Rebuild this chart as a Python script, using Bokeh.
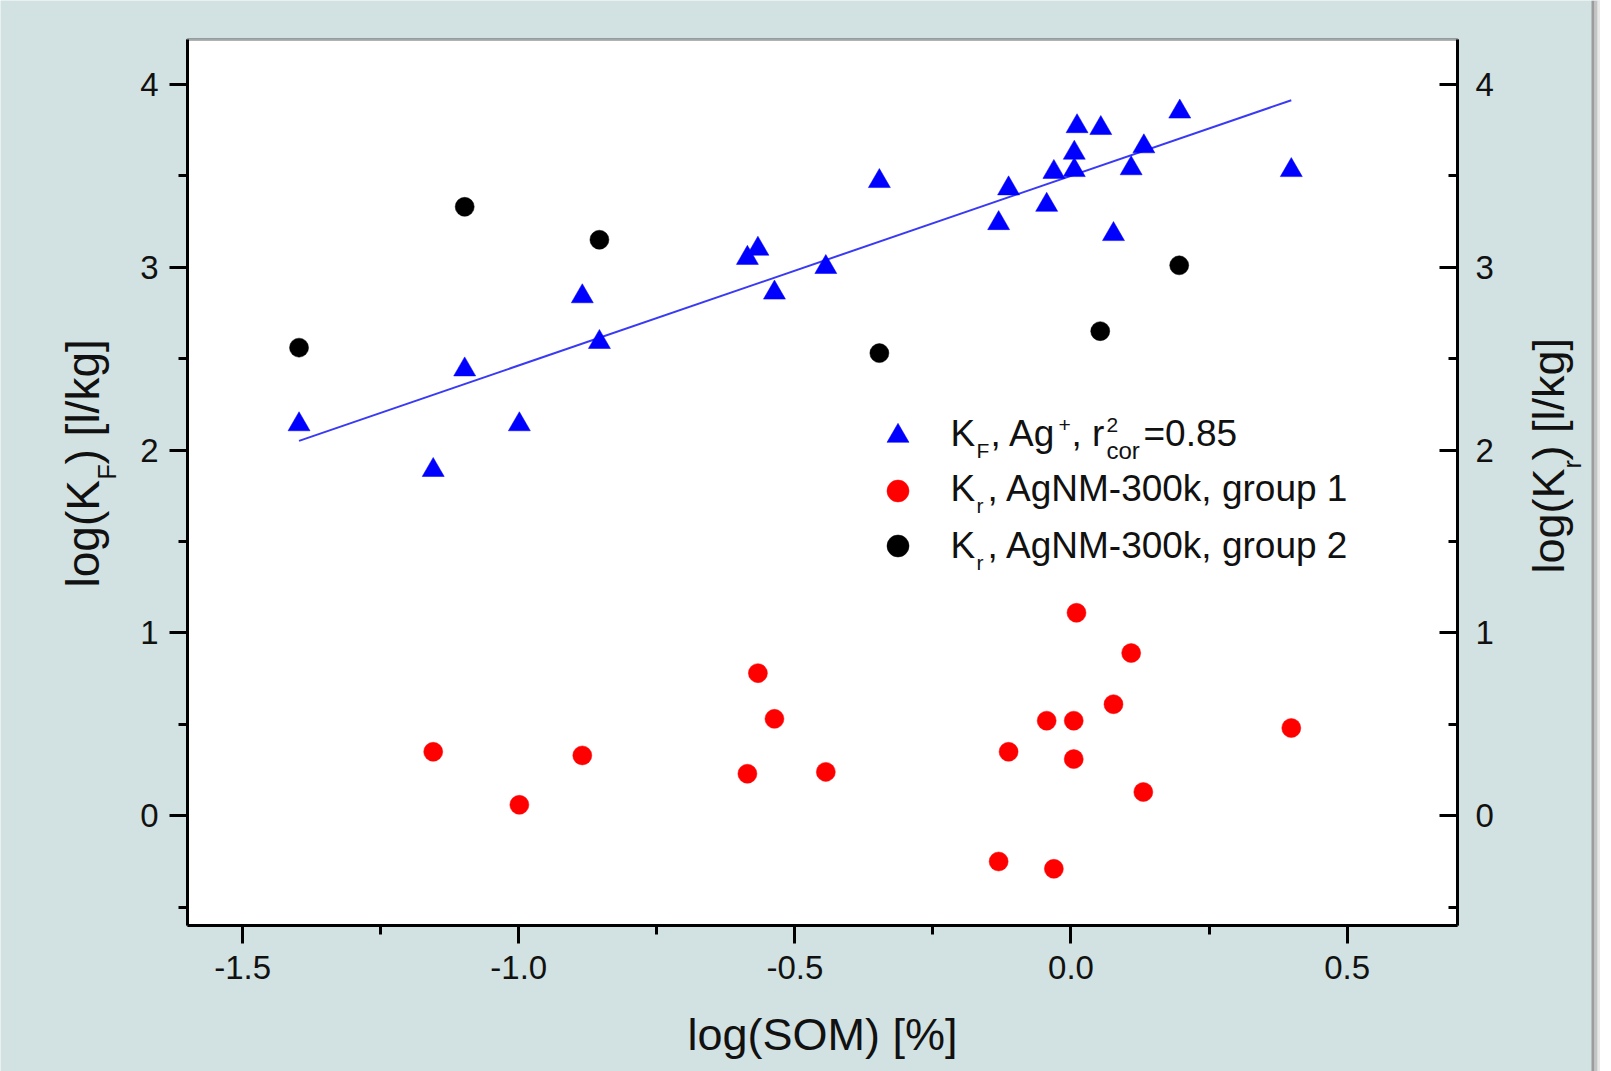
import math
from bokeh.plotting import figure
from bokeh.models import (Range1d, LinearAxis, FixedTicker, PrintfTickFormatter,
                          Label, Legend, LegendItem, BoxAnnotation)
from bokeh.embed import file_html
from bokeh.resources import INLINE

# ---------------- data ----------------
ag_x = [-1.398, -1.155, -1.098, -0.999, -0.885, -0.854, -0.586, -0.567, -0.537, -0.444,
        -0.347, -0.131, -0.113, -0.044, -0.031, 0.006, 0.006, 0.011, 0.054, 0.077,
        0.109, 0.132, 0.197, 0.399]
ag_y = [2.14, 1.89, 2.44, 2.14, 2.84, 2.59, 3.05, 3.10, 2.86, 3.00,
        3.47, 3.24, 3.43, 3.34, 3.52, 3.625, 3.53, 3.77, 3.76, 3.18,
        3.54, 3.66, 3.85, 3.53]

g1_x = [-1.155, -0.999, -0.885, -0.586, -0.567, -0.537, -0.444, -0.131, -0.113,
        -0.044, -0.031, 0.005, 0.005, 0.010, 0.077, 0.109, 0.131, 0.399]
g1_y = [0.35, 0.06, 0.33, 0.23, 0.78, 0.53, 0.24, -0.25, 0.35,
        0.52, -0.29, 0.52, 0.31, 1.11, 0.61, 0.89, 0.13, 0.48]

g2_x = [-1.398, -1.098, -0.854, -0.347, 0.053, 0.196]
g2_y = [2.56, 3.33, 3.15, 2.53, 2.65, 3.01]

fit_x = [-1.398, 0.399]
fit_y = [2.05, 3.913]

x_ticks = [-1.5, -1.0, -0.5, 0.0, 0.5]
x_minor = [-1.25, -0.75, -0.25, 0.25]
y_ticks = [0, 1, 2, 3, 4]
y_minor = [-0.5, 0.5, 1.5, 2.5, 3.5]

x_label = "log(SOM) [%]"
legend_rows = [
    [("K", "main"), ("F", "sub"), (", Ag", "main"), ("+", "sup"), (", r", "main"),
     ("2", "sup"), ("cor", "sub"), ("=0.85", "main")],
    [("K", "main"), ("r", "sub"), (", AgNM-300k, group 1", "main")],
    [("K", "main"), ("r", "sub"), (", AgNM-300k, group 2", "main")],
]

# ---------------- layout constants ----------------
BG = "#d2e1e1"
FONT = "Liberation Sans"
TXT = "#111111"
W, H = 1600, 1071
# plotting box (data limits) and its pixel position
X0, X1 = -1.6, 0.7
Y0, Y1 = -0.6, 4.245
BL, BR, BT, BB = 187, 1457, 39, 925
kx = (BR - BL) / (X1 - X0)
ky = (BB - BT) / (Y1 - Y0)
xr = Range1d(X0 - BL / kx, X1 + (W - BR) / kx)
yr = Range1d(Y0 - (H - BB) / ky, Y1 + BT / ky)

p = figure(width=W, height=H, min_border=0, x_range=xr, y_range=yr,
           output_backend="svg", toolbar_location=None,
           x_axis_location="below", y_axis_location="left")
p.border_fill_color = BG
p.background_fill_color = BG
p.outline_line_color = None
p.xgrid.visible = False
p.ygrid.visible = False

# white plotting box with black frame
p.add_layout(BoxAnnotation(left=X0, right=X1, bottom=Y0, top=Y1,
                           fill_color="white", fill_alpha=1.0,
                           line_color="black", line_width=3, level="underlay"))
# shadow strip at right edge of the panel
for (a, b, c) in [(1591, 1594, "#9c9c9c"), (1594, 1597, "#c4c4c4"), (1597, 1600, "#e8e8e8")]:
    p.add_layout(BoxAnnotation(left=a, right=b, left_units="screen", right_units="screen",
                               fill_color=c, fill_alpha=1.0, line_color=None))

right_axis = LinearAxis()
p.add_layout(right_axis, "right")


def style_axis(ax, ticks, minor, fmt, tin, tout, standoff, loc, bounds):
    ax.fixed_location = loc
    ax.bounds = bounds
    ax.ticker = FixedTicker(ticks=ticks, minor_ticks=minor)
    ax.formatter = PrintfTickFormatter(format=fmt)
    ax.axis_line_color = "black"
    ax.axis_line_width = 3
    ax.major_tick_line_color = "black"
    ax.major_tick_line_width = 3
    ax.minor_tick_line_color = "black"
    ax.minor_tick_line_width = 3
    ax.major_tick_in = tin
    ax.major_tick_out = tout
    ax.minor_tick_in = tin // 2
    ax.minor_tick_out = tout // 2
    ax.major_label_text_font = FONT
    ax.major_label_text_font_size = "33px"
    ax.major_label_text_color = TXT
    ax.major_label_standoff = standoff


style_axis(p.xaxis[0], x_ticks, x_minor, "%.1f", 0, 18, 12, Y0, (X0, X1))
style_axis(p.yaxis[0], y_ticks, y_minor, "%d", 0, 18, 11, X0, (Y0, Y1))
style_axis(right_axis, y_ticks, y_minor, "%d", 18, 0, 18, X1, (Y0, Y1))

# ---------------- glyphs ----------------
p.line(fit_x, fit_y, line_color="#3a3af5", line_width=2)
r_ag = p.scatter(ag_x, ag_y, marker="triangle", size=22, fill_color="#0000ff",
                 line_color="#0000ff", line_width=0.5)
r_g1 = p.scatter(g1_x, g1_y, marker="circle", size=19, fill_color="#ff0000",
                 line_color="#ff0000", line_width=0.5)
r_g2 = p.scatter(g2_x, g2_y, marker="circle", size=19, fill_color="#000000",
                 line_color="#000000", line_width=0.5)

legend = Legend(items=[LegendItem(label=" ", renderers=[r_ag]),
                       LegendItem(label=" ", renderers=[r_g1]),
                       LegendItem(label=" ", renderers=[r_g2])],
                location=(870, 498), glyph_width=55, glyph_height=55,
                spacing=0, padding=0, margin=0, label_standoff=0, label_width=0,
                label_height=55, label_text_font_size="10px",
                background_fill_alpha=0, border_line_alpha=0)
p.add_layout(legend)


def add_text(txt, X, Y, size, align="left", angle=0.0):
    """X, Y in page pixels from the top-left corner (Y = visual text centre line)."""
    p.add_layout(Label(x=X, y=H - Y, x_units="screen", y_units="screen",
                       text=txt, text_font=FONT, text_font_size=f"{size}px",
                       text_align=align, text_baseline="alphabetic",
                       angle=angle, text_color=TXT))


# legend text
MAIN, SUB = 37, 21
row_mid = [433, 488, 545]
row_x = [
    [950, 976, 990, 1058, 1071, 1106, 1106, 1143],
    [950, 976, 987],
    [950, 976, 987],
]
for (pieces, mid, xs) in zip(legend_rows, row_mid, row_x):
    for (txt, kind), X in zip(pieces, xs):
        if kind == "main":
            add_text(txt, X, mid, MAIN)
        elif kind == "sub":
            add_text(txt, X, mid + 17, SUB if txt != "cor" else 24)
        else:
            add_text(txt, X, mid - 9, SUB)

# axis titles
add_text(x_label, 822, 1034, 45, align="center")
# left: log(K_F) [l/kg]
add_text("log(K", 82, 587, 46, angle=math.pi / 2)
add_text("F", 106, 479, 25, angle=math.pi / 2)
add_text(") [l/kg]", 82, 464, 46, angle=math.pi / 2)
# right: log(K_r) [l/kg]
add_text("log(K", 1548, 573, 45, angle=math.pi / 2)
add_text("r", 1571, 468, 25, angle=math.pi / 2)
add_text(") [l/kg]", 1548, 460, 45, angle=math.pi / 2)

open("out.html", "w").write(file_html(p, INLINE))
